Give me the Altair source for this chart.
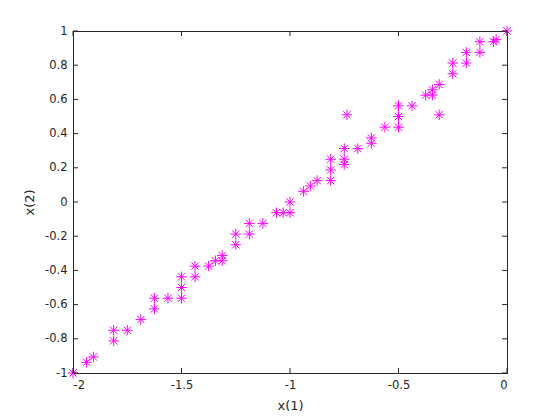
import altair as alt
import pandas as pd

x1 = [0, -0.05, -0.0625, -0.125, -0.125, -0.1875, -0.1875, -0.25, -0.25,
      -0.3125, -0.34375, -0.34375, -0.375, -0.3125, -0.7375, -0.4375, -0.5, -0.5, -0.5,
      -0.5625, -0.625, -0.625, -0.75, -0.6875, -0.75, -0.75, -0.8125, -0.8125, -0.8125,
      -0.875, -0.90625, -0.9375, -1.0, -1.0, -1.03125, -1.0625, -1.125, -1.1875, -1.1875,
      -1.25, -1.25, -1.3125, -1.3125, -1.34375, -1.375, -1.4375, -1.4375, -1.5, -1.5, -1.5,
      -1.5625, -1.625, -1.625, -1.6875, -1.75, -1.8125, -1.8125, -1.90625, -1.9375, -2.0]
x2 = [1, 0.95, 0.9375, 0.9375, 0.875, 0.875, 0.8125, 0.8125, 0.75,
      0.6875, 0.65625, 0.625, 0.625, 0.51, 0.51, 0.5625, 0.5625, 0.5, 0.4375,
      0.4375, 0.375, 0.34375, 0.3125, 0.3125, 0.25, 0.21875, 0.25, 0.1875, 0.125,
      0.125, 0.09375, 0.0625, 0.0, -0.0625, -0.0625, -0.0625, -0.125, -0.125, -0.1875,
      -0.1875, -0.25, -0.3125, -0.34375, -0.34375, -0.375, -0.375, -0.4375, -0.4375, -0.5, -0.5625,
      -0.5625, -0.5625, -0.625, -0.6875, -0.75, -0.75, -0.8125, -0.90625, -0.9375, -1.0]

x_ticks = [-2, -1.5, -1, -0.5, 0]
y_ticks = [-1, -0.8, -0.6, -0.4, -0.2, 0, 0.2, 0.4, 0.6, 0.8, 1]

W, H = 434, 342
TICK = 5
GRAY = "#262626"

df = pd.DataFrame({"x1": x1, "x2": x2})
xt = pd.DataFrame({"v": x_ticks})
yt = pd.DataFrame({"v": y_ticks})

xscale = alt.Scale(domain=[-2, 0], nice=False, zero=False)
yscale = alt.Scale(domain=[-1, 1], nice=False, zero=False)

xaxis = alt.Axis(values=x_ticks, ticks=False, grid=False,
                 labelExpr="'' + datum.value", labelPadding=6,
                 labelOverlap=False, titlePadding=9)
yaxis = alt.Axis(values=y_ticks, ticks=False, grid=False,
                 labelExpr="'' + datum.value", labelPadding=6,
                 labelOverlap=False, titlePadding=8)

star = "M0,-1L0,1M-1,0L1,0M-0.7,-0.7L0.7,0.7M-0.7,0.7L0.7,-0.7"

points = alt.Chart(df).mark_point(
    shape=star, filled=False, stroke="#ff00ff", strokeWidth=1, size=110, opacity=1
).encode(
    x=alt.X("x1:Q", scale=xscale, title="x(1)", axis=xaxis),
    y=alt.Y("x2:Q", scale=yscale, title="x(2)", axis=yaxis),
)

xb = alt.Chart(xt).mark_rule(color=GRAY, strokeWidth=1).encode(
    x=alt.X("v:Q", scale=xscale, title="x(1)", axis=xaxis),
    y=alt.value(H), y2=alt.value(H - TICK))
xtp = alt.Chart(xt).mark_rule(color=GRAY, strokeWidth=1).encode(
    x=alt.X("v:Q", scale=xscale, title="x(1)", axis=xaxis),
    y=alt.value(0), y2=alt.value(TICK))
yl = alt.Chart(yt).mark_rule(color=GRAY, strokeWidth=1).encode(
    y=alt.Y("v:Q", scale=yscale, title="x(2)", axis=yaxis),
    x=alt.value(0), x2=alt.value(TICK))
yr = alt.Chart(yt).mark_rule(color=GRAY, strokeWidth=1).encode(
    y=alt.Y("v:Q", scale=yscale, title="x(2)", axis=yaxis),
    x=alt.value(W), x2=alt.value(W - TICK))

chart = alt.layer(points, xb, xtp, yl, yr).properties(
    width=W, height=H,
    autosize=alt.AutoSizeParams(type="none"),
    padding={"left": 65, "top": 23, "right": 45, "bottom": 40},
).configure_view(
    stroke=GRAY, strokeWidth=1
).configure_axis(
    domainColor=GRAY, labelColor=GRAY, titleColor=GRAY,
    labelFont="DejaVu Sans", titleFont="DejaVu Sans",
    labelFontSize=11.5, titleFontSize=13, titleFontWeight="normal",
    domainWidth=1, labelOverlap=False,
)

chart.save("out.html", embed_options={"renderer": "svg", "actions": False})
